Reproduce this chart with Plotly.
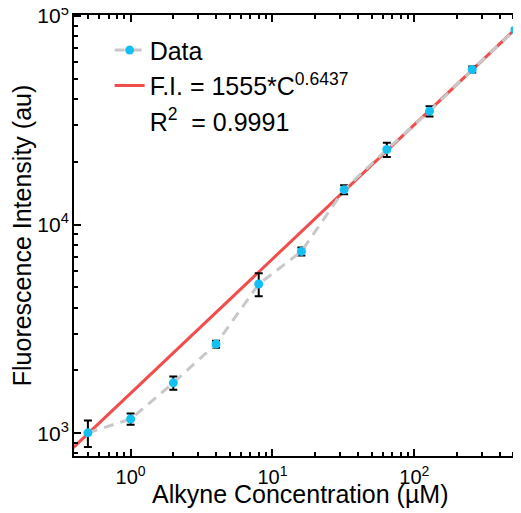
import plotly.graph_objects as go
import numpy as np

# Data
conc = [0.5, 1, 2, 4, 8, 16, 32, 64, 128, 256, 512]
fi = [1005, 1171, 1744, 2675, 5192, 7443, 14720, 22910, 34990, 55450, 85700]
fi_err = [145, 72, 126, 104, 650, 330, 740, 1800, 1950, 1850, 1500]

# fit coefficients (F.I. = a*C^b)
fit_a = 1555
fit_b = 0.6437
fit_c = [0.3, 700]
fit_y = [fit_a * c ** fit_b for c in fit_c]

x_major = [1, 10, 100]
x_major_text = ["10<sup>0</sup>", "10<sup>1</sup>", "10<sup>2</sup>"]
y_major = [1000, 10000, 100000]
y_major_text = ["10<sup>3</sup>", "10<sup>4</sup>", "10<sup>5</sup>"]
x_minor = [0.5, 0.6, 0.7, 0.8, 0.9] + [m * d for d in (1, 10, 100) for m in range(2, 10)]
y_minor = [800, 900] + [m * d for d in (1000, 10000) for m in range(2, 10)]

FONT = "Arial, Liberation Sans, sans-serif"
RED = "#F24D4D"
BLUE = "#14C0F2"
GRAY = "#C8C8C8"

fig = go.Figure()

fig.add_trace(go.Scatter(
    x=fit_c, y=fit_y, mode="lines",
    line=dict(color=RED, width=3),
    name="F.I. = 1555*C<sup>0.6437</sup>",
    legendgroup="b", legendrank=2,
))

fig.add_trace(go.Scatter(
    x=conc, y=fi, mode="lines+markers",
    line=dict(color=GRAY, width=3, dash="10px,7px"),
    marker=dict(color=BLUE, size=9),
    error_y=dict(type="data", array=fi_err, color="black", thickness=2, width=4),
    name="Data",
    legendgroup="a", legendrank=1,
))

fig.add_trace(go.Scatter(
    x=[None], y=[None], mode="lines",
    line=dict(color="rgba(0,0,0,0)", width=1),
    name="R<sup>2</sup>\u00a0\u00a0= 0.9991",
    legendgroup="c", legendrank=3,
))

axis_common = dict(
    type="log",
    showgrid=False, zeroline=False,
    showline=True, linecolor="black", linewidth=2,
    ticks="inside", ticklen=7, tickwidth=1.5, tickcolor="black",
    mirror="ticks",
    ticklabeloverflow="allow",
)

fig.update_xaxes(
    **axis_common,
    tickfont=dict(family=FONT, size=20, color="black"),
    range=[np.log10(0.399), 2.752],
    tickmode="array", tickvals=x_major, ticktext=x_major_text,
    ticklabelstandoff=2,
    minor=dict(tickmode="array", tickvals=x_minor, ticks="inside", ticklen=4,
               tickwidth=1.5, tickcolor="black", showgrid=False),
)
fig.update_yaxes(
    **axis_common,
    tickfont=dict(family=FONT, size=21, color="black"),
    range=[2.891, 5.005],
    tickmode="array", tickvals=y_major, ticktext=y_major_text,
    ticklabelstandoff=-1,
    minor=dict(tickmode="array", tickvals=y_minor, ticks="inside", ticklen=4,
               tickwidth=1.5, tickcolor="black", showgrid=False),
    title=dict(text="Fluorescence Intensity (au)", font=dict(family=FONT, size=25, color="black"), standoff=0),
)

fig.add_annotation(
    text="Alkyne Concentration (µM)",
    xref="paper", yref="paper", x=0.5056, y=-0.0862,
    xanchor="center", yanchor="middle", showarrow=False,
    font=dict(family=FONT, size=25, color="black"),
)

fig.update_layout(
    width=513, height=505,
    margin=dict(l=66, r=0, t=7, b=57, autoexpand=False),
    plot_bgcolor="white", paper_bgcolor="white",
    font=dict(family=FONT, color="black"),
    legend=dict(
        x=0.0797, y=0.972, xanchor="left", yanchor="top",
        bgcolor="rgba(0,0,0,0)",
        font=dict(family=FONT, size=25, color="black"),
        traceorder="grouped", tracegroupgap=0,
    ),
)

fig.write_html("out.html")
